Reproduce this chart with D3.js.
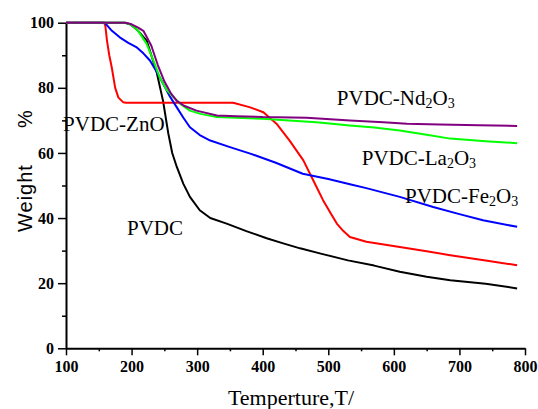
<!DOCTYPE html>
<html>
<head>
<meta charset="utf-8">
<script src="https://cdn.jsdelivr.net/npm/d3@7"></script>
<style>
  body { margin: 0; background: #fff; }
  svg { display: block; }
  .curve { fill: none; stroke-width: 2; stroke-linejoin: round; }
</style>
</head>
<body>
<div id="chart"></div>
<script>
// TGA curves (temperature, weight %)
const pvdcT   = [100, 190, 198, 210, 223, 238, 248, 256, 262, 269, 279, 289, 304, 320, 345, 375, 406, 430, 457, 490, 530, 570, 609, 650, 686, 740, 788];
const pvdcW   = [100, 100, 99.5, 97.5, 94.5, 85, 76, 66, 60, 55.7, 50.5, 46.5, 42.4, 40, 38.3, 36, 33.8, 32.3, 30.7, 29, 27, 25.4, 23.5, 22, 20.9, 19.8, 18.4];

const znoT    = [100, 158, 160, 162.5, 166, 170, 175, 180, 187, 192, 250, 300, 355, 381, 401, 421, 441, 462, 477, 492, 505, 513, 523, 533, 558, 609, 650, 686, 740, 788];
const znoW    = [100, 100, 99, 94.5, 90, 86, 80, 77, 75.6, 75.4, 75.4, 75.4, 75.4, 74, 72.5, 69, 63.8, 57.7, 51.6, 45.5, 41, 38.3, 36, 34.2, 32.7, 31.1, 29.8, 28.6, 27, 25.5];

const fe2o3T  = [100, 159, 170, 182, 195, 208, 218, 228, 238, 248, 258, 269, 279, 289, 304, 320, 350, 381, 420, 461, 500, 533, 558, 609, 660, 700, 736, 788];
const fe2o3W  = [100, 100, 97.5, 95.5, 93.8, 92.4, 90.6, 88.4, 85, 81.3, 77.5, 74, 70.8, 67.9, 65.5, 63.8, 61.8, 59.8, 57, 53.6, 52, 50.4, 49.2, 46.5, 43.4, 41.2, 39.3, 37.3];

const la2o3T  = [100, 190, 200, 210, 223, 233, 243, 253, 264, 276, 289, 305, 330, 360, 400, 440, 482, 533, 570, 609, 650, 686, 740, 788];
const la2o3W  = [100, 100, 99.3, 97.5, 93.5, 88.5, 83.2, 79.5, 77.1, 74.8, 73, 72, 71, 70.8, 70.5, 70, 69.4, 68.4, 67.8, 66.9, 65.6, 64.4, 63.6, 63];

const nd2o3T  = [100, 190, 200, 210, 218, 230, 240, 250, 260, 269, 280, 299, 330, 360, 400, 467, 533, 584, 620, 670, 730, 788];
const nd2o3W  = [100, 100, 99.5, 98.5, 97.5, 93, 87, 82, 78.3, 76, 74.5, 73, 71.5, 71.3, 71, 70.8, 70, 69.4, 69, 68.7, 68.5, 68.3];

const xTicks = [100, 200, 300, 400, 500, 600, 700, 800];
const yTicks = [0, 20, 40, 60, 80, 100];

const series = [
    { name: 'PVDC',       t: pvdcT,  w: pvdcW,  color: '#000000' },
    { name: 'PVDC-ZnO',   t: znoT,   w: znoW,   color: '#ff0000' },
    { name: 'PVDC-Fe2O3', t: fe2o3T, w: fe2o3W, color: '#0000ff' },
    { name: 'PVDC-La2O3', t: la2o3T, w: la2o3W, color: '#00ff00' },
    { name: 'PVDC-Nd2O3', t: nd2o3T, w: nd2o3W, color: '#800080' }
];

// labels on the plot: text pieces (1 = subscript), anchor in data units
const notes = [
    { parts: [['PVDC-Nd', 0], ['2', 1], ['O', 0], ['3', 1]], x: 513, y: 74.6 },
    { parts: [['PVDC-La', 0], ['2', 1], ['O', 0], ['3', 1]], x: 551, y: 56.2 },
    { parts: [['PVDC-Fe', 0], ['2', 1], ['O', 0], ['3', 1]], x: 617, y: 44.5 },
    { parts: [['PVDC-ZnO', 0]], x: 95.5, y: 66.6 },
    { parts: [['PVDC', 0]], x: 193, y: 34.7 }
];

const serif = '"Liberation Serif", "Times New Roman", serif';
const sans = '"Liberation Sans", Arial, sans-serif';

const width = 538;
const height = 409;

const svg = d3.select('#chart')
    .append('svg')
    .attr('width', width)
    .attr('height', height);

const x = d3.scaleLinear().domain([100, 800]).range([66, 525]);
const y = d3.scaleLinear().domain([0, 100]).range([348.3, 22.7]);

function styleAxis(g) {
    g.attr('font-family', serif).attr('font-size', 16).attr('font-weight', 'bold');
    g.select('.domain').attr('stroke', '#000').attr('stroke-width', 2);
    g.selectAll('.tick line').attr('stroke', '#000').attr('stroke-width', 1.5);
    g.selectAll('.tick text')
        .attr('fill', '#000')
        .style('font-family', serif)
        .style('font-weight', 'bold')
        .style('font-size', '16px');
}

// minor ticks first so the major axis sits on top
svg.append('g')
    .attr('transform', `translate(0,${y(0)})`)
    .call(d3.axisBottom(x).tickValues(xTicks.slice(0, -1).map(d => d + 50)).tickSize(3).tickSizeOuter(0).tickFormat(''))
    .call(styleAxis)
    .call(g => g.select('.domain').remove());

svg.append('g')
    .attr('transform', `translate(${x(100)},0)`)
    .call(d3.axisLeft(y).tickValues(yTicks.slice(0, -1).map(d => d + 10)).tickSize(4).tickSizeOuter(0).tickFormat(''))
    .call(styleAxis)
    .call(g => g.select('.domain').remove());

svg.append('g')
    .attr('transform', `translate(0,${y(0)})`)
    .call(d3.axisBottom(x).tickValues(xTicks).tickSize(7).tickSizeOuter(0).tickPadding(5))
    .call(styleAxis);

svg.append('g')
    .attr('transform', `translate(${x(100)},0)`)
    .call(d3.axisLeft(y).tickValues(yTicks).tickSize(8).tickSizeOuter(0).tickPadding(4))
    .call(styleAxis);

// curves
const line = d3.line()
    .x(d => x(d[0]))
    .y(d => y(d[1]));

svg.append('g')
    .selectAll('path')
    .data(series)
    .enter()
    .append('path')
    .attr('class', 'curve')
    .attr('stroke', d => d.color)
    .attr('d', d => line(d.t.map((t, i) => [t, d.w[i]])));

// curve labels
notes.forEach(n => {
    const txt = svg.append('text')
        .attr('x', x(n.x))
        .attr('y', y(n.y))
        .style('font-family', serif)
        .style('font-size', '21px');
    let shifted = false;
    n.parts.forEach(([s, sub]) => {
        const ts = txt.append('tspan').text(s);
        if (sub) {
            ts.style('font-size', '14px');
            if (!shifted) { ts.attr('dy', 3); shifted = true; }
        } else if (shifted) {
            ts.attr('dy', -3);
            shifted = false;
        }
    });
});

// axis titles
svg.append('text')
    .attr('x', 291)
    .attr('y', 405)
    .attr('text-anchor', 'middle')
    .style('font-family', serif)
    .style('font-size', '22px')
    .text('Temperture,T/');

svg.append('text')
    .attr('transform', 'translate(32,232) rotate(-90)')
    .style('font-family', sans)
    .style('font-size', '20px')
    .style('letter-spacing', '1px')
    .text('Weight');

svg.append('text')
    .attr('transform', 'translate(32,119) rotate(-90)')
    .attr('text-anchor', 'middle')
    .style('font-family', sans)
    .style('font-size', '20px')
    .text('%');
</script>
</body>
</html>
